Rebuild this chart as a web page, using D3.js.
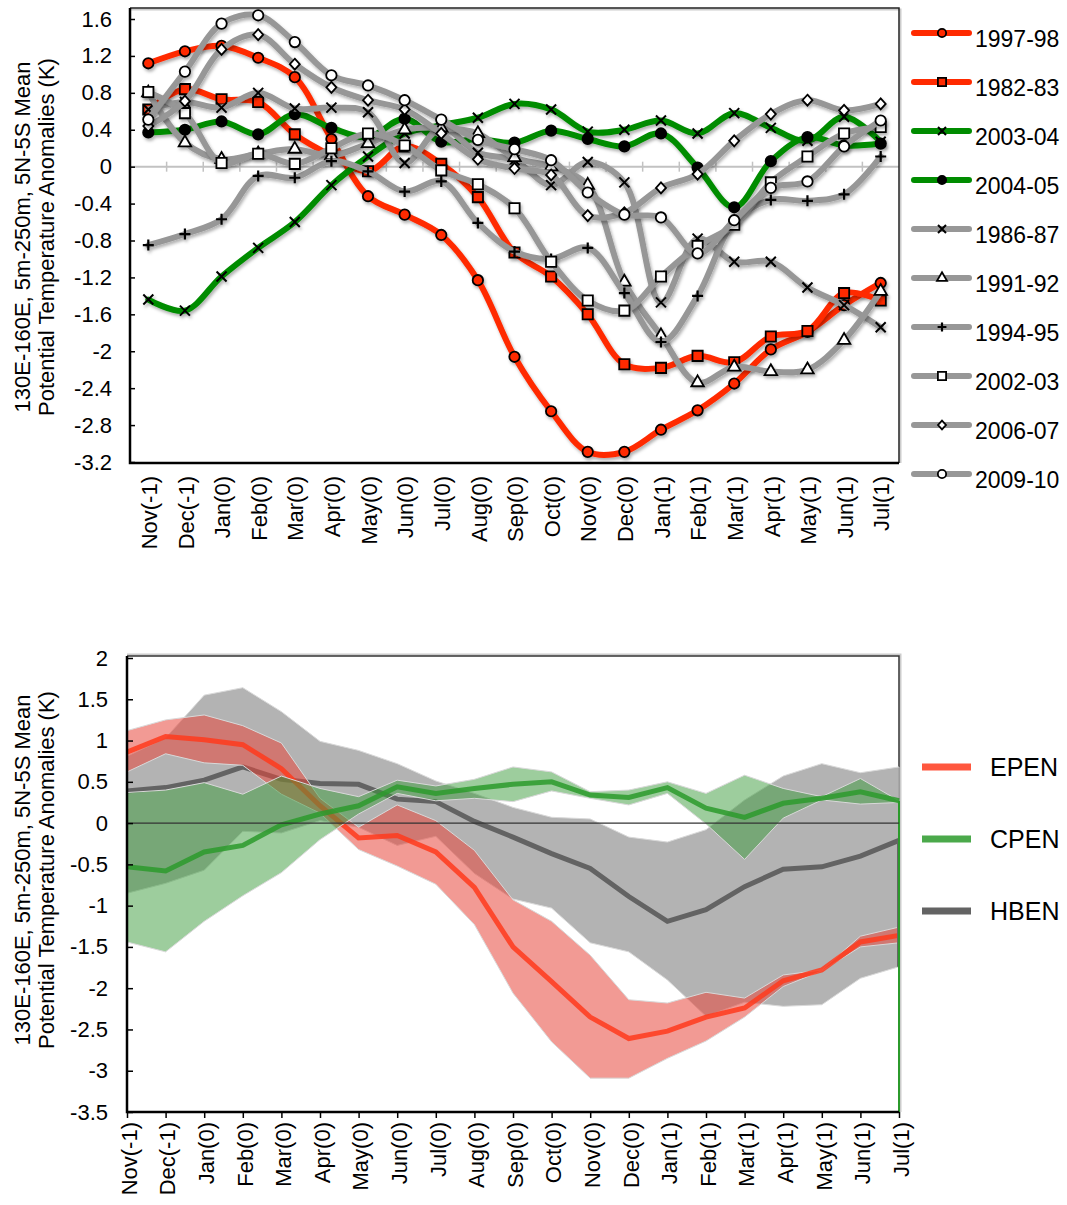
<!DOCTYPE html>
<html>
<head>
<meta charset="utf-8">
<script src="https://cdn.jsdelivr.net/npm/d3@7"></script>
<style>
  body { margin: 0; background: #fff; }
  text { font-family: "Liberation Sans", Arial, Helvetica, sans-serif; fill: #000; }
</style>
</head>
<body>
<svg id="chart" width="1067" height="1205"></svg>
<script>
// ---- data ----
const months = ["Nov(-1)", "Dec(-1)", "Jan(0)", "Feb(0)", "Mar(0)", "Apr(0)", "May(0)", "Jun(0)",
    "Jul(0)", "Aug(0)", "Sep(0)", "Oct(0)", "Nov(0)", "Dec(0)", "Jan(1)", "Feb(1)", "Mar(1)",
    "Apr(1)", "May(1)", "Jun(1)", "Jul(1)"];

const topTicks = [1.6, 1.2, 0.8, 0.4, 0, -0.4, -0.8, -1.2, -1.6, -2, -2.4, -2.8, -3.2];
const bottomTicks = [2, 1.5, 1, 0.5, 0, -0.5, -1, -1.5, -2, -2.5, -3, -3.5];

const s1997 = [1.12, 1.25, 1.31, 1.18, 0.97, 0.30, -0.32, -0.52, -0.74, -1.23, -2.06, -2.65, -3.09, -3.09, -2.85, -2.64, -2.35, -1.98, -1.79, -1.50, -1.26];
const s1982 = [0.62, 0.84, 0.73, 0.70, 0.35, 0.12, -0.05, 0.22, 0.03, -0.33, -0.93, -1.19, -1.60, -2.14, -2.18, -2.05, -2.12, -1.84, -1.78, -1.37, -1.45];
const s2003 = [-1.44, -1.56, -1.19, -0.88, -0.60, -0.20, 0.11, 0.36, 0.45, 0.53, 0.68, 0.62, 0.38, 0.40, 0.50, 0.36, 0.58, 0.42, 0.28, 0.54, 0.27];
const s2004 = [0.37, 0.40, 0.49, 0.35, 0.57, 0.42, 0.32, 0.52, 0.27, 0.30, 0.26, 0.39, 0.30, 0.22, 0.36, -0.01, -0.44, 0.06, 0.32, 0.23, 0.25];
const s1986 = [0.62, 0.70, 0.64, 0.80, 0.63, 0.64, 0.59, 0.04, 0.42, 0.15, 0.07, -0.20, 0.05, -0.17, -1.47, -0.78, -1.03, -1.03, -1.31, -1.50, -1.74];
const s1991 = [0.80, 0.26, 0.08, 0.14, 0.19, 0.12, 0.25, 0.40, 0.42, 0.36, 0.10, 0.00, -0.20, -1.25, -1.83, -2.34, -2.17, -2.22, -2.20, -1.88, -1.35];
const s1994 = [-0.85, -0.73, -0.57, -0.10, -0.12, 0.06, -0.05, -0.27, -0.16, -0.61, -0.92, -1.00, -0.88, -1.37, -1.90, -1.40, -0.60, -0.36, -0.37, -0.30, 0.11];
const s2002 = [0.81, 0.58, 0.04, 0.14, 0.03, 0.20, 0.36, 0.23, -0.04, -0.19, -0.45, -1.03, -1.45, -1.56, -1.19, -0.86, -0.63, -0.17, 0.11, 0.36, 0.43];
const s2006 = [0.44, 0.71, 1.27, 1.43, 1.11, 0.86, 0.72, 0.62, 0.36, 0.08, -0.02, -0.09, -0.53, -0.50, -0.23, -0.08, 0.28, 0.57, 0.72, 0.61, 0.68];
const s2009 = [0.51, 1.03, 1.55, 1.64, 1.35, 0.99, 0.88, 0.72, 0.51, 0.29, 0.19, 0.07, -0.28, -0.52, -0.55, -0.94, -0.58, -0.23, -0.16, 0.22, 0.50];

const epenMean = [0.86, 1.05, 1.01, 0.95, 0.66, 0.21, -0.18, -0.15, -0.35, -0.78, -1.50, -1.92, -2.35, -2.61, -2.52, -2.35, -2.24, -1.91, -1.78, -1.44, -1.36];
const epenHigh = [1.12, 1.25, 1.31, 1.18, 0.97, 0.30, -0.05, 0.22, 0.03, -0.33, -0.93, -1.19, -1.60, -2.14, -2.18, -2.05, -2.12, -1.84, -1.78, -1.37, -1.26];
const epenLow = [0.62, 0.84, 0.73, 0.70, 0.35, 0.12, -0.32, -0.52, -0.74, -1.23, -2.06, -2.65, -3.09, -3.09, -2.85, -2.64, -2.35, -1.98, -1.79, -1.50, -1.45];
const cpenMean = [-0.53, -0.58, -0.35, -0.27, -0.02, 0.11, 0.21, 0.44, 0.36, 0.42, 0.47, 0.50, 0.34, 0.31, 0.43, 0.18, 0.07, 0.24, 0.30, 0.38, 0.27];
const cpenHigh = [0.37, 0.40, 0.49, 0.35, 0.57, 0.42, 0.32, 0.52, 0.45, 0.53, 0.68, 0.62, 0.38, 0.40, 0.50, 0.36, 0.58, 0.42, 0.32, 0.54, 0.27];
const cpenLow = [-1.44, -1.56, -1.19, -0.88, -0.60, -0.20, 0.11, 0.36, 0.27, 0.30, 0.26, 0.39, 0.30, 0.22, 0.36, -0.01, -0.44, 0.06, 0.28, 0.23, 0.25];
const hbenMean = [0.39, 0.43, 0.52, 0.68, 0.53, 0.48, 0.47, 0.29, 0.26, 0.02, -0.17, -0.37, -0.55, -0.89, -1.19, -1.05, -0.77, -0.56, -0.53, -0.40, -0.21];
const hbenHigh = [0.81, 1.03, 1.55, 1.64, 1.35, 0.99, 0.88, 0.72, 0.51, 0.36, 0.19, 0.07, 0.05, -0.17, -0.23, -0.08, 0.28, 0.57, 0.72, 0.61, 0.68];
const hbenLow = [-0.85, -0.73, -0.57, -0.10, -0.12, 0.03, -0.05, -0.27, -0.16, -0.61, -0.92, -1.03, -1.45, -1.56, -1.90, -2.34, -2.17, -2.22, -2.20, -1.88, -1.74];

const RED = "#ff2a00", GREEN = "#008c00", GRAY = "#979797";

// draw order follows the legend order
const seasons = [
    {name: "1997-98", values: s1997, color: RED, marker: "circle", fill: RED},
    {name: "1982-83", values: s1982, color: RED, marker: "square", fill: RED},
    {name: "2003-04", values: s2003, color: GREEN, marker: "x"},
    {name: "2004-05", values: s2004, color: GREEN, marker: "circle", fill: "#000"},
    {name: "1986-87", values: s1986, color: GRAY, marker: "x"},
    {name: "1991-92", values: s1991, color: GRAY, marker: "triangle", fill: "#fff"},
    {name: "1994-95", values: s1994, color: GRAY, marker: "plus"},
    {name: "2002-03", values: s2002, color: GRAY, marker: "square", fill: "#fff"},
    {name: "2006-07", values: s2006, color: GRAY, marker: "diamond", fill: "#fff"},
    {name: "2009-10", values: s2009, color: GRAY, marker: "circle", fill: "#fff"}
];

const groups = [
    {name: "HBEN", mean: hbenMean, high: hbenHigh, low: hbenLow, band: "#808080", bandOp: 0.6, line: "#636363", lineOp: 1},
    {name: "EPEN", mean: epenMean, high: epenHigh, low: epenLow, band: "#e8473d", bandOp: 0.55, line: "#ff3a1c", lineOp: 0.85},
    {name: "CPEN", mean: cpenMean, high: cpenHigh, low: cpenLow, band: "#3c9c3c", bandOp: 0.5, line: "#2b9a2b", lineOp: 0.85}
];
const legendOrder = ["EPEN", "CPEN", "HBEN"];

const svg = d3.select("#chart");
const fmt = d => d === 0 ? "0" : String(d);

const defs = svg.append("defs");
defs.append("filter").attr("id", "shadow")
    .attr("x", "-10%").attr("y", "-10%").attr("width", "130%").attr("height", "130%")
    .append("feDropShadow")
    .attr("dx", 1.5).attr("dy", 2.5).attr("stdDeviation", 1.8)
    .attr("flood-color", "#000").attr("flood-opacity", 0.3);

function drawMarker(sel, type, fill, scale) {
    const k = scale || 1;
    if (type === "x") {
        sel.append("path").attr("d", `M${-5 * k},${-5 * k}L${5 * k},${5 * k}M${-5 * k},${5 * k}L${5 * k},${-5 * k}`)
            .attr("stroke", "#000").attr("stroke-width", 2).attr("fill", "none");
    } else if (type === "plus") {
        sel.append("path").attr("d", `M${-5.5 * k},0L${5.5 * k},0M0,${-5.5 * k}L0,${5.5 * k}`)
            .attr("stroke", "#000").attr("stroke-width", 2.2).attr("fill", "none");
    } else if (type === "diamond") {
        sel.append("path").attr("d", `M0,${-5.5 * k}L${5 * k},0L0,${5.5 * k}L${-5 * k},0Z`)
            .attr("fill", fill).attr("stroke", "#000").attr("stroke-width", 1.8);
    } else {
        const types = {circle: [d3.symbolCircle, 85], square: [d3.symbolSquare, 105],
            triangle: [d3.symbolTriangle, 68]};
        const t = types[type];
        sel.append("path").attr("d", d3.symbol(t[0], t[1] * k * k)())
            .attr("fill", fill).attr("stroke", "#000").attr("stroke-width", 1.8);
    }
}

// ================= top chart =================
const m1 = {left: 130, right: 899, top: 8, bottom: 463};
const x1 = d3.scaleBand().domain(months).range([m1.left, m1.right]);
const y1 = d3.scaleLinear().domain([-3.2, 1.6]).range([462, 19]);
const cx1 = m => x1(m) + x1.bandwidth() / 2;

const g1 = svg.append("g");

// zero line with ticks
g1.append("line").attr("x1", m1.left).attr("x2", m1.right).attr("y1", y1(0)).attr("y2", y1(0))
    .attr("stroke", "#c2c2c2").attr("stroke-width", 2);
g1.selectAll(".ztick").data(months.slice(1)).enter().append("line")
    .attr("x1", d => x1(d)).attr("x2", d => x1(d))
    .attr("y1", y1(0) - 5).attr("y2", y1(0) + 5)
    .attr("stroke", "#c2c2c2").attr("stroke-width", 1.5);

// frame
g1.append("path").attr("d", `M${m1.left},${m1.top + 1.5}H${m1.right + 1.5}V${m1.bottom}`)
    .attr("fill", "none").attr("stroke", "#ccc").attr("stroke-width", 2);
g1.append("path").attr("d", `M${m1.left},${m1.top}H${m1.right}V${m1.bottom}`)
    .attr("fill", "none").attr("stroke", "#222").attr("stroke-width", 1.5);

const yAxis1 = g1.append("g").attr("transform", `translate(${m1.left},0)`)
    .call(d3.axisLeft(y1).tickValues(topTicks).tickFormat(fmt).tickSize(-5).tickPadding(18));
yAxis1.select(".domain").remove();
yAxis1.attr("font-size", null).attr("font-family", null);
yAxis1.selectAll("line").attr("stroke", "#000").attr("stroke-width", 1.5);
yAxis1.selectAll("text").style("font-size", "22px");

g1.append("path").attr("d", `M${m1.left},${m1.top}V${m1.bottom}H${m1.right}`)
    .attr("fill", "none").attr("stroke", "#000").attr("stroke-width", 2.5);

g1.selectAll(".xl").data(months).enter().append("text")
    .attr("text-anchor", "end").attr("dy", "0.35em")
    .attr("transform", d => `translate(${cx1(d) + 1},476) rotate(-90)`)
    .style("font-size", "22px").text(d => d);

const line1 = d3.line().x((d, i) => cx1(months[i])).y(d => y1(d)).curve(d3.curveCatmullRom.alpha(0.5));

seasons.forEach(s => {
    const sg = g1.append("g").attr("filter", "url(#shadow)");
    sg.append("path").attr("d", line1(s.values)).attr("fill", "none")
        .attr("stroke", s.color).attr("stroke-width", 6)
        .attr("stroke-linecap", "round").attr("stroke-linejoin", "round");
    s.values.forEach((v, i) => {
        const mg = sg.append("g").attr("transform", `translate(${cx1(months[i])},${y1(v)})`);
        drawMarker(mg, s.marker, s.fill);
    });
});

// top legend
seasons.forEach((s, k) => {
    const ly = 33 + 49 * k;
    const lg = svg.append("g");
    lg.append("line").attr("x1", 914).attr("x2", 969).attr("y1", ly).attr("y2", ly)
        .attr("stroke", s.color).attr("stroke-width", 6).attr("stroke-linecap", "round");
    const mg = lg.append("g").attr("transform", `translate(942,${ly})`);
    drawMarker(mg, s.marker, s.fill, 0.8);
    lg.append("text").attr("x", 975).attr("y", ly + 13.5).style("font-size", "23px").text(s.name);
});

// ================= bottom chart =================
const m2 = {left: 127, right: 899, top: 656, bottom: 1112};
const x2 = d3.scalePoint().domain(months).range([m2.left, m2.right]);
const y2 = d3.scaleLinear().domain([-3.5, 2]).range([1112, 658]);

const g2 = svg.append("g");

g2.append("path").attr("d", `M${m2.left},${m2.top - 1.5}H${m2.right + 1.5}V${m2.bottom}`)
    .attr("fill", "none").attr("stroke", "#ccc").attr("stroke-width", 2);
g2.append("path").attr("d", `M${m2.left},${m2.top}H${m2.right}V${m2.bottom}`)
    .attr("fill", "none").attr("stroke", "#333").attr("stroke-width", 1.5);

const area2 = d3.area().x((d, i) => x2(months[i])).y0(d => y2(d[0])).y1(d => y2(d[1]));
const line2 = d3.line().x((d, i) => x2(months[i])).y(d => y2(d));

groups.forEach(gr => {
    const band = gr.low.map((v, i) => [v, gr.high[i]]);
    g2.append("path").attr("d", area2(band))
        .attr("fill", gr.band).attr("fill-opacity", gr.bandOp)
        .attr("stroke", "#d9d9d9").attr("stroke-width", 1);
    g2.append("path").attr("d", line2(gr.mean)).attr("fill", "none")
        .attr("stroke", gr.line).attr("stroke-opacity", gr.lineOp).attr("stroke-width", 5);
});

// dark trace on the right edge of the gray band
const last = months.length - 1;
g2.append("line").attr("x1", x2(months[last]) - 1).attr("x2", x2(months[last]) - 1)
    .attr("y1", y2(hbenMean[last])).attr("y2", y2(hbenLow[last]))
    .attr("stroke", "#666").attr("stroke-width", 2);

// thin green edge traces at both ends
[0, last].forEach(i => {
    g2.append("line").attr("x1", x2(months[i])).attr("x2", x2(months[i]))
        .attr("y1", y2(cpenMean[i])).attr("y2", y2(-3.5))
        .attr("stroke", "#2b9a2b").attr("stroke-width", 2);
});

g2.append("line").attr("x1", m2.left).attr("x2", m2.right).attr("y1", y2(0)).attr("y2", y2(0))
    .attr("stroke", "#333").attr("stroke-width", 1.2);

const yAxis2 = g2.append("g").attr("transform", `translate(${m2.left},0)`)
    .call(d3.axisLeft(y2).tickValues(bottomTicks).tickFormat(fmt).tickSize(-6).tickPadding(19));
yAxis2.select(".domain").remove();
yAxis2.attr("font-size", null).attr("font-family", null);
yAxis2.selectAll("line").attr("stroke", "#000").attr("stroke-width", 1.5);
yAxis2.selectAll("text").style("font-size", "22px");

const xAxis2 = g2.append("g").attr("transform", `translate(0,${m2.bottom})`)
    .call(d3.axisBottom(x2).tickSize(6).tickFormat(""));
xAxis2.select(".domain").remove();
xAxis2.selectAll("line").attr("stroke", "#000").attr("stroke-width", 1.5);

g2.append("path").attr("d", `M${m2.left},${m2.top}V${m2.bottom}H${m2.right}`)
    .attr("fill", "none").attr("stroke", "#000").attr("stroke-width", 2.5);

g2.selectAll(".xl").data(months).enter().append("text")
    .attr("text-anchor", "end").attr("dy", "0.35em")
    .attr("transform", d => `translate(${x2(d) + 2},1122) rotate(-90)`)
    .style("font-size", "22px").text(d => d);

// bottom legend
legendOrder.forEach((name, k) => {
    const gr = groups.find(g => g.name === name);
    const ly = 767 + 72 * k;
    svg.append("line").attr("x1", 922).attr("x2", 971).attr("y1", ly).attr("y2", ly)
        .attr("stroke", gr.line).attr("stroke-opacity", gr.lineOp).attr("stroke-width", 7);
    svg.append("text").attr("x", 990).attr("y", ly + 9).style("font-size", "25px").text(name);
});

// y-axis titles
[[237], [870]].forEach(([cy]) => {
    svg.append("text").attr("text-anchor", "middle")
        .attr("transform", `translate(30,${cy}) rotate(-90)`)
        .style("font-size", "22px").text("130E-160E, 5m-250m, 5N-5S Mean");
    svg.append("text").attr("text-anchor", "middle")
        .attr("transform", `translate(54,${cy}) rotate(-90)`)
        .style("font-size", "22px").text("Potential Temperature Anomalies (K)");
});
</script>
</body>
</html>
